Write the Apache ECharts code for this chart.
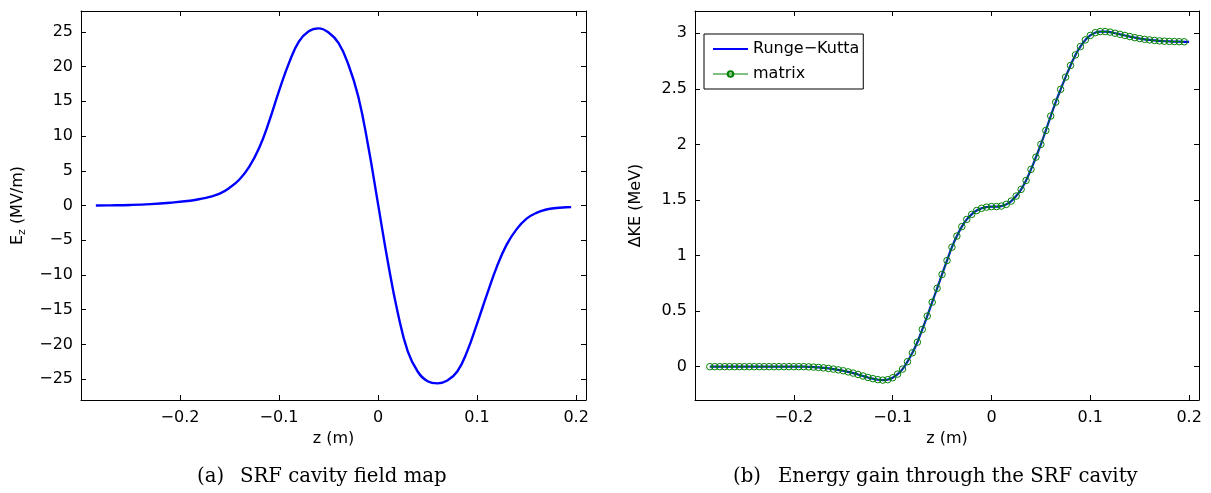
<!DOCTYPE html>
<html>
<head>
<meta charset="utf-8">
<script src="https://cdn.jsdelivr.net/npm/echarts@6/dist/echarts.min.js"></script>
<style>html,body{margin:0;padding:0;background:#fff;}#c{width:1211px;height:493px;}</style>
</head>
<body>
<div id="c"></div>
<script>
// ---- Panel (a): SRF cavity field map ----
const zField = [-0.285,-0.27,-0.25,-0.23,-0.21,-0.19,-0.18,-0.17,-0.16,-0.15,-0.14,-0.13,-0.12,-0.11,-0.10,-0.09,-0.08,-0.07,-0.06,-0.05,-0.04,-0.03,-0.02,-0.01,0,0.01,0.02,0.03,0.04,0.05,0.06,0.07,0.08,0.09,0.10,0.11,0.12,0.13,0.14,0.15,0.16,0.17,0.18,0.19,0.195];
const ezValues = [0,0.02,0.08,0.2,0.4,0.68,0.93,1.25,1.7,2.55,3.75,5.6,8.3,12.1,16.5,20.5,23.6,25.1,25.5,24.9,23.4,20.3,15.7,8.6,0.2,-8.2,-15.5,-21.0,-23.9,-25.3,-25.6,-25.2,-23.9,-21.0,-17.0,-12.8,-8.8,-5.6,-3.4,-1.9,-1.05,-0.58,-0.36,-0.26,-0.23];

// ---- Panel (b): energy gain ----
const zMatrix = [-0.285,-0.28,-0.275,-0.27,-0.265,-0.26,-0.255,-0.25,-0.245,-0.24,-0.235,-0.23,-0.225,-0.22,-0.215,-0.21,-0.205,-0.2,-0.195,-0.19,
 -0.185,-0.18,-0.175,-0.17,-0.165,-0.16,-0.155,-0.15,-0.145,-0.14,-0.135,-0.13,-0.125,-0.12,-0.115,-0.11,-0.105,-0.1,-0.095,-0.09,
 -0.085,-0.08,-0.075,-0.07,-0.065,-0.06,-0.055,-0.05,-0.045,-0.04,-0.035,-0.03,-0.025,-0.02,-0.015,-0.01,-0.005,0,0.005,0.01,
 0.015,0.02,0.025,0.03,0.035,0.04,0.045,0.05,0.055,0.06,0.065,0.07,0.075,0.08,0.085,0.09,0.095,0.1,0.105,0.11,
 0.115,0.12,0.125,0.13,0.135,0.14,0.145,0.15,0.155,0.16,0.165,0.17,0.175,0.18,0.185,0.19,0.195];
const keMatrix = [0,0,0,0,0,0,0,0,0,0,0,0,0,0,0,0,0,0,0,0,
 -0.002,-0.004,-0.007,-0.011,-0.016,-0.022,-0.029,-0.037,-0.047,-0.058,-0.07,-0.084,-0.097,-0.108,-0.117,-0.121,-0.117,-0.1,-0.067,-0.022,
 0.045,0.125,0.22,0.335,0.455,0.58,0.705,0.83,0.955,1.075,1.175,1.26,1.325,1.37,1.405,1.425,1.435,1.44,1.44,1.445,
 1.46,1.49,1.535,1.595,1.675,1.775,1.885,2.0,2.125,2.255,2.38,2.495,2.605,2.71,2.805,2.88,2.94,2.98,3.005,3.015,
 3.015,3.01,3.0,2.99,2.98,2.97,2.96,2.952,2.945,2.94,2.935,2.931,2.928,2.926,2.925,2.924,2.923];
const zRK = zMatrix.concat([0.2]);
const keRK = keMatrix.concat([2.922]);

const xTicks = [-0.2,-0.1,0,0.1,0.2];
const ezTicks = [-25,-20,-15,-10,-5,0,5,10,15,20,25];
const keTicks = [0,0.5,1,1.5,2,2.5,3];

const pairs = (xs, ys) => xs.map((x, i) => [x, ys[i]]);
const fmt = v => String(+(+v).toFixed(3)).replace('-', '\u2212');
const SANS = '"DejaVu Sans", Verdana, sans-serif';
const SERIF = '19.7px "DejaVu Serif", serif';

function xAx(grid, pos, ticks, show, name) {
  return {
    type: 'value', gridIndex: grid, position: pos, min: -0.3, max: 0.21,
    axisLine: { show: true, onZero: false, lineStyle: { color: '#000', width: 1 } },
    axisTick: { show: true, inside: true, length: 5, customValues: ticks, lineStyle: { color: '#000' } },
    axisLabel: { show: show, customValues: ticks, formatter: fmt, color: '#000', fontSize: 16, fontFamily: SANS, margin: 10 },
    splitLine: { show: false },
    name: name || '', nameLocation: 'middle', nameGap: 30,
    nameTextStyle: { color: '#000', fontSize: 16, fontFamily: SANS }
  };
}
function yAx(grid, pos, min, max, ticks, show, name, gap) {
  return {
    type: 'value', gridIndex: grid, position: pos, min: min, max: max,
    axisLine: { show: true, onZero: false, lineStyle: { color: '#000', width: 1 } },
    axisTick: { show: true, inside: true, length: 5, customValues: ticks, lineStyle: { color: '#000' } },
    axisLabel: { show: show, customValues: ticks, formatter: fmt, color: '#000', fontSize: 16, fontFamily: SANS, margin: 8 },
    splitLine: { show: false },
    name: name || '', nameLocation: 'middle', nameGap: gap || 0, nameRotate: 90,
    nameTextStyle: { color: '#000', fontSize: 16, fontFamily: SANS,
      rich: { sub: { fontSize: 11, fontFamily: SANS, color: '#000', verticalAlign: 'bottom', padding: [9, 0, 0, 0] } } }
  };
}

const chart = echarts.init(document.getElementById('c'), null, { renderer: 'canvas' });
chart.setOption({
  animation: false,
  backgroundColor: '#fff',
  grid: [
    { left: 81, top: 11, width: 505, height: 389 },
    { left: 695, top: 11, width: 504, height: 389 }
  ],
  xAxis: [
    xAx(0, 'bottom', xTicks, true, 'z (m)'),
    xAx(0, 'top', xTicks, false),
    xAx(1, 'bottom', xTicks, true, 'z (m)'),
    xAx(1, 'top', xTicks, false)
  ],
  yAxis: [
    yAx(0, 'left', -28, 28, ezTicks, true, 'E{sub|z} (MV/m)', 53),
    yAx(0, 'right', -28, 28, ezTicks, false),
    yAx(1, 'left', -0.3, 3.2, keTicks, true, '\u0394KE (MeV)', 51),
    yAx(1, 'right', -0.3, 3.2, keTicks, false)
  ],
  legend: {
    left: 704, top: 34, orient: 'vertical',
    itemWidth: 35, itemHeight: 7, itemGap: 9,
    padding: [7, 4, 7, 8],
    borderColor: '#000', borderWidth: 1, backgroundColor: '#fff',
    textStyle: { color: '#000', fontSize: 16, fontFamily: SANS },
    data: [
      { name: 'Runge\u2212Kutta', itemStyle: { opacity: 0 } },
      { name: 'matrix', lineStyle: { width: 1 } }
    ]
  },
  series: [
    {
      type: 'line', xAxisIndex: 0, yAxisIndex: 0, data: pairs(zField, ezValues),
      smooth: 0.45, symbol: 'none',
      lineStyle: { color: '#0000ff', width: 2.4 }, itemStyle: { color: '#0000ff' }
    },
    {
      name: 'Runge\u2212Kutta', type: 'line', xAxisIndex: 2, yAxisIndex: 2, data: pairs(zRK, keRK),
      smooth: 0.45, symbol: 'none',
      lineStyle: { color: '#0000ff', width: 2.2 }, itemStyle: { color: '#0000ff' }
    },
    {
      name: 'matrix', type: 'line', xAxisIndex: 2, yAxisIndex: 2, data: pairs(zMatrix, keMatrix),
      symbol: 'circle', symbolSize: 6.5, showSymbol: true,
      lineStyle: { color: '#008000', width: 1 },
      itemStyle: { color: 'rgba(255,255,255,0)', borderColor: '#008000', borderWidth: 1 }
    }
  ],
  graphic: [
    { type: 'text', x: 197, y: 477, style: { text: '(a)', font: SERIF, fill: '#000', textAlign: 'left', textVerticalAlign: 'middle', verticalAlign: 'middle' } },
    { type: 'text', x: 240, y: 477, style: { text: 'SRF cavity field map', font: SERIF, fill: '#000', textAlign: 'left', textVerticalAlign: 'middle', verticalAlign: 'middle' } },
    { type: 'text', x: 733, y: 477, style: { text: '(b)', font: SERIF, fill: '#000', textAlign: 'left', textVerticalAlign: 'middle', verticalAlign: 'middle' } },
    { type: 'text', x: 778, y: 477, style: { text: 'Energy gain through the SRF cavity', font: SERIF, fill: '#000', textAlign: 'left', textVerticalAlign: 'middle', verticalAlign: 'middle' } }
  ]
});
</script>
</body>
</html>
